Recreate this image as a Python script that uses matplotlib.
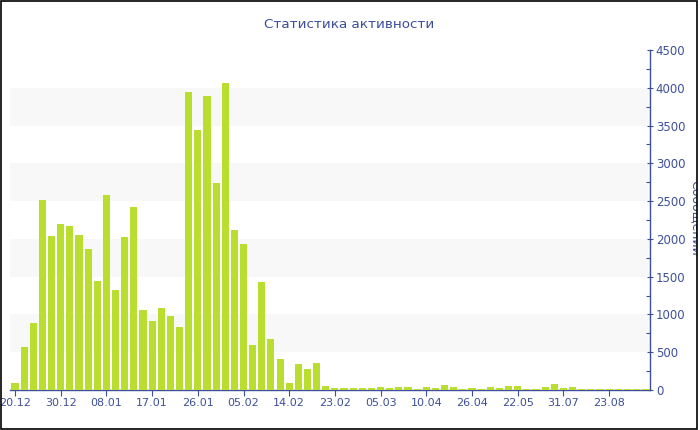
import matplotlib
matplotlib.use("Agg")
import matplotlib.pyplot as plt
from matplotlib.patches import Rectangle
from matplotlib.ticker import MultipleLocator

# messages per period (category axis, every 5th labelled)
counts = [97, 573, 882, 2515, 2042, 2197, 2170, 2051, 1862, 1438,
          2581, 1319, 2025, 2426, 1059, 917, 1090, 984, 829, 3940,
          3437, 3896, 2744, 4068, 2113, 1928, 600, 1434, 675, 415,
          88, 344, 274, 362, 53, 31, 31, 26, 22, 22,
          40, 22, 35, 35, 16, 35, 22, 66, 35, 16,
          20, 16, 40, 26, 52, 48, 14, 14, 35, 84,
          20, 44, 16, 16, 16, 16, 16, 16, 16, 16]
tick_labels = ["20.12", "30.12", "08.01", "17.01", "26.01", "05.02", "14.02",
               "23.02", "05.03", "10.04", "26.04", "22.05", "31.07", "23.08"]
label_step = 5

txt_color = "#3d4f9c"
bar_color = "#bade2f"

fig = plt.figure(figsize=(7, 4.3), dpi=100)
ax = fig.add_axes([10.4 / 700, 1 - 390 / 430, (650.3 - 10.4) / 700, 340 / 430])

x = list(range(len(counts)))
ax.bar(x, counts, width=0.78, color=bar_color, linewidth=0, zorder=3)

# alternating plot bands
for lo in range(500, 4500, 1000):
    ax.axhspan(lo, lo + 500, color="#f8f8f8", lw=0, zorder=0)

ax.set_xlim(-0.5, len(counts) - 0.5)
ax.set_ylim(0, 4500)

ax.set_xticks(x[::label_step])
ax.set_xticklabels(tick_labels, fontsize=8, color=txt_color)
ax.tick_params(axis="x", length=4, width=0.8, color=txt_color, pad=2)

ax.yaxis.tick_right()
ax.yaxis.set_major_locator(MultipleLocator(500))
ax.yaxis.set_minor_locator(MultipleLocator(250))
ax.tick_params(axis="y", which="major", length=4, width=0.8, direction="inout",
               color=txt_color, labelcolor=txt_color, labelsize=8.5, pad=2)
ax.tick_params(axis="y", which="minor", length=3, width=0.8, direction="in", color=txt_color)

for side in ["top", "left"]:
    ax.spines[side].set_visible(False)
for side in ["bottom", "right"]:
    ax.spines[side].set_color(txt_color)
    ax.spines[side].set_linewidth(1)

fig.text(349 / 700, 1 - 25 / 430, "Статистика активности", ha="center", va="center",
         fontsize=9.7, color=txt_color)
fig.text(695 / 700, 1 - 218 / 430, "Сообщений", rotation=270, ha="center", va="center",
         fontsize=9, color=txt_color)

# outer frame (label on the right gets cut by it)
fig.add_artist(Rectangle((697 / 700, 0), 3 / 700, 1, transform=fig.transFigure,
                         facecolor="white", edgecolor="none", zorder=20))
fig.add_artist(Rectangle((0.5 / 700, 1.5 / 430), 696.5 / 700, 428 / 430, transform=fig.transFigure,
                         fill=False, edgecolor="black", linewidth=1.2, zorder=21))

fig.savefig("out.png", dpi=100)
